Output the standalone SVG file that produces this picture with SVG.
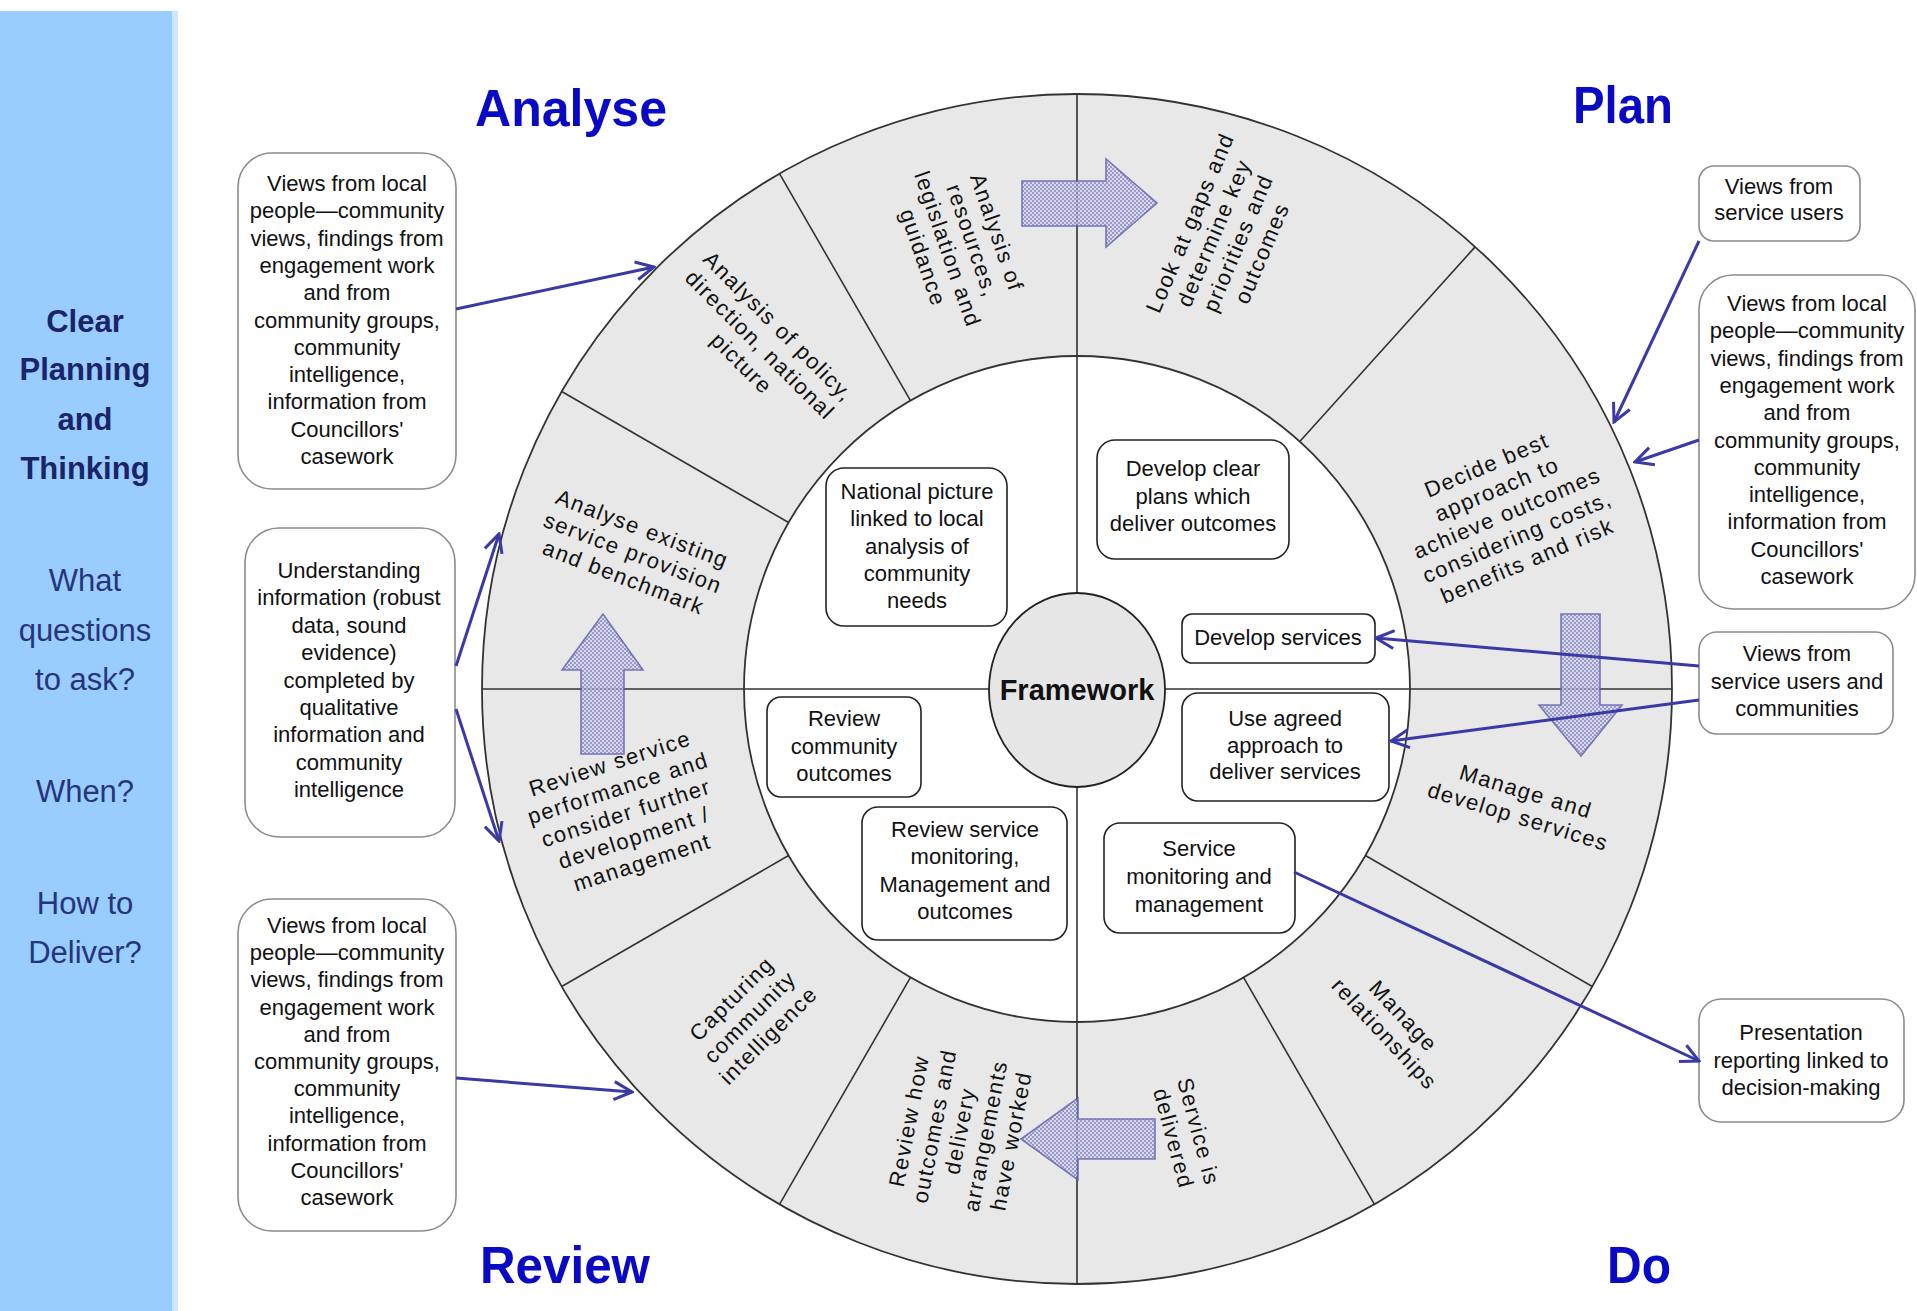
<svg xmlns="http://www.w3.org/2000/svg" width="1917" height="1311" viewBox="0 0 1917 1311">
<style>
  .box{fill:#fff;stroke:#8c8c8c;stroke-width:1.6}
  .ibox{fill:#fff;stroke:#222;stroke-width:1.6}
  .bt{font-family:"Liberation Sans",Arial,sans-serif;font-size:22px;fill:#111;text-anchor:middle}
  .st{font-family:"Liberation Sans",Arial,sans-serif;font-size:22px;fill:#111;text-anchor:middle;letter-spacing:1.5px}
  .ttl{font-family:"Liberation Sans",Arial,sans-serif;font-size:52px;font-weight:bold;fill:#0a0ac4;text-anchor:middle}
  .pb{font-family:"Liberation Sans",Arial,sans-serif;font-size:31px;font-weight:bold;fill:#1b2468;text-anchor:middle}
  .pn{font-family:"Liberation Sans",Arial,sans-serif;font-size:31px;fill:#26357a;text-anchor:middle}
  .rl{stroke:#333;stroke-width:1.6;fill:none}
  .con{stroke:#3a3aa6;stroke-width:3;fill:none;marker-end:url(#ah)}
  .blk{fill:url(#dots);stroke:#5c5cae;stroke-width:1.6;opacity:0.82}
</style>
<defs>
  <marker id="ah" viewBox="0 0 22 22" refX="20" refY="11" markerWidth="22" markerHeight="22" markerUnits="userSpaceOnUse" orient="auto">
    <path d="M2,2 L20,11 L2,20" fill="none" stroke="#3a3aa6" stroke-width="3"/>
  </marker>
  <pattern id="dots" width="4" height="4" patternUnits="userSpaceOnUse">
    <rect width="4" height="4" fill="#d6d6ee"/>
    <rect width="2" height="2" fill="#8a8ac4"/>
    <rect x="2" y="2" width="2" height="2" fill="#8a8ac4"/>
  </pattern>
</defs>
<rect width="1917" height="1311" fill="#fff"/>

<!-- left panel -->
<g id="panel">
  <rect x="0" y="11" width="178" height="1300" fill="#cfe6ff"/>
  <rect x="0" y="11" width="172" height="1300" fill="#99ccff"/>
  <text class="pb" x="85" y="332">Clear</text>
  <text class="pb" x="85" y="380">Planning</text>
  <text class="pb" x="85" y="430">and</text>
  <text class="pb" x="85" y="479">Thinking</text>
  <text class="pn" x="85" y="591">What</text>
  <text class="pn" x="85" y="641">questions</text>
  <text class="pn" x="85" y="690">to ask?</text>
  <text class="pn" x="85" y="802">When?</text>
  <text class="pn" x="85" y="914">How to</text>
  <text class="pn" x="85" y="963">Deliver?</text>
</g>

<!-- titles -->
<g id="titles">
  <text class="ttl" x="571" y="126" textLength="192" lengthAdjust="spacingAndGlyphs">Analyse</text>
  <text class="ttl" x="1623" y="123" textLength="100" lengthAdjust="spacingAndGlyphs">Plan</text>
  <text class="ttl" x="565" y="1283" textLength="170" lengthAdjust="spacingAndGlyphs">Review</text>
  <text class="ttl" x="1639" y="1283" textLength="64" lengthAdjust="spacingAndGlyphs">Do</text>
</g>

<!-- ring -->
<g id="ring">
  <circle cx="1077" cy="689" r="595" fill="#e8e8e8" stroke="#333" stroke-width="1.8"/>
  <circle cx="1077" cy="689" r="333" fill="#fff" stroke="#333" stroke-width="1.8"/>
  <line class="rl" x1="910.5" y1="400.6" x2="779.5" y2="173.7"/>
  <line class="rl" x1="788.6" y1="522.5" x2="561.7" y2="391.5"/>
  <line class="rl" x1="788.6" y1="855.5" x2="561.7" y2="986.5"/>
  <line class="rl" x1="910.5" y1="977.4" x2="779.5" y2="1204.3"/>
  <line class="rl" x1="1243.5" y1="977.4" x2="1374.5" y2="1204.3"/>
  <line class="rl" x1="1365.4" y1="855.5" x2="1592.3" y2="986.5"/>
  <line class="rl" x1="1299.8" y1="441.5" x2="1475.1" y2="246.9"/>
  <line class="rl" x1="1077" y1="94" x2="1077" y2="593"/>
  <line class="rl" x1="1077" y1="787" x2="1077" y2="1284"/>
  <line class="rl" x1="482" y1="689" x2="990" y2="689"/>
  <line class="rl" x1="1164" y1="689" x2="1672" y2="689"/>
</g>

<!-- segment labels -->
<g id="seg-resources"><text class="st" transform="translate(960,245) rotate(71)"><tspan x="0" dy="-31.5">Analysis of</tspan><tspan x="0" dy="26">resources,</tspan><tspan x="0" dy="26">legislation and</tspan><tspan x="0" dy="26">guidance</tspan></text></g>
<g id="seg-gaps"><text class="st" transform="translate(1226,238) rotate(-67)"><tspan x="0" dy="-31.5">Look at gaps and</tspan><tspan x="0" dy="26">determine key</tspan><tspan x="0" dy="26">priorities and</tspan><tspan x="0" dy="26">outcomes</tspan></text></g>
<g id="seg-decide"><text class="st" transform="translate(1507,513) rotate(-23)"><tspan x="0" dy="-44.5">Decide best</tspan><tspan x="0" dy="26">approach to</tspan><tspan x="0" dy="26">achieve outcomes</tspan><tspan x="0" dy="26">considering costs,</tspan><tspan x="0" dy="26">benefits and risk</tspan></text></g>
<g id="seg-manage-develop"><text class="st" transform="translate(1522,804) rotate(17)"><tspan x="0" dy="-5.5">Manage and</tspan><tspan x="0" dy="26">develop services</tspan></text></g>
<g id="seg-relationships"><text class="st" transform="translate(1394,1025) rotate(47)"><tspan x="0" dy="-5.5">Manage</tspan><tspan x="0" dy="26">relationships</tspan></text></g>
<g id="seg-delivered"><text class="st" transform="translate(1186,1135) rotate(75)"><tspan x="0" dy="-5.5">Service is</tspan><tspan x="0" dy="26">delivered</tspan></text></g>
<g id="seg-review-how"><text class="st" transform="translate(960,1131) rotate(-79)"><tspan x="0" dy="-44.5">Review how</tspan><tspan x="0" dy="26">outcomes and</tspan><tspan x="0" dy="26">delivery</tspan><tspan x="0" dy="26">arrangements</tspan><tspan x="0" dy="26">have worked</tspan></text></g>
<g id="seg-capturing"><text class="st" transform="translate(750,1017) rotate(-45)"><tspan x="0" dy="-18.5">Capturing</tspan><tspan x="0" dy="26">community</tspan><tspan x="0" dy="26">intelligence</tspan></text></g>
<g id="seg-review-perf"><text class="st" transform="translate(626,813) rotate(-18)"><tspan x="0" dy="-44.5">Review service</tspan><tspan x="0" dy="26">performance and</tspan><tspan x="0" dy="26">consider further</tspan><tspan x="0" dy="26">development /</tspan><tspan x="0" dy="26">management</tspan></text></g>
<g id="seg-analyse-existing"><text class="st" transform="translate(633,553) rotate(21)"><tspan x="0" dy="-18.5">Analyse existing</tspan><tspan x="0" dy="26">service provision</tspan><tspan x="0" dy="26">and benchmark</tspan></text></g>
<g id="seg-policy"><text class="st" transform="translate(760,345) rotate(45)"><tspan x="0" dy="-18.5">Analysis of policy,</tspan><tspan x="0" dy="26">direction, national</tspan><tspan x="0" dy="26">picture</tspan></text></g>

<!-- framework -->
<g id="framework">
  <ellipse cx="1077" cy="690" rx="88" ry="97" fill="#e6e6e6" stroke="#222" stroke-width="1.8"/>
  <text x="1077" y="700" font-family="Liberation Sans, Arial, sans-serif" font-size="29" font-weight="bold" fill="#111" text-anchor="middle">Framework</text>
</g>

<!-- block arrows -->
<g id="block-arrows">
  <path class="blk" d="M1022,181 H1106 V159 L1157,203 L1106,247 V226 H1022 Z"/>
  <path class="blk" d="M581,754 V670 H562 L603,614 L643,670 H624 V754 Z"/>
  <path class="blk" d="M1561,614 H1600 V705 H1622 L1581,756 L1539,705 H1561 Z"/>
  <path class="blk" d="M1155,1119 V1159 H1078 V1180 L1021,1139 L1078,1098 V1119 Z"/>
</g>

<!-- inner boxes -->
<g id="n-national"><rect class="ibox" x="826" y="468" width="181" height="158" rx="18"/>
  <text class="bt"><tspan x="917" y="499">National picture</tspan><tspan x="917" dy="27.3">linked to local</tspan><tspan x="917" dy="27.3">analysis of</tspan><tspan x="917" dy="27.3">community</tspan><tspan x="917" dy="27.3">needs</tspan></text></g>
<g id="n-plans"><rect class="ibox" x="1097" y="440" width="192" height="119" rx="18"/>
  <text class="bt"><tspan x="1193" y="476">Develop clear</tspan><tspan x="1193" dy="27.5">plans which</tspan><tspan x="1193" dy="27.5">deliver outcomes</tspan></text></g>
<g id="n-develop"><rect class="ibox" x="1182" y="614" width="193" height="49" rx="10"/>
  <text class="bt" x="1278" y="645">Develop services</text></g>
<g id="n-agreed"><rect class="ibox" x="1182" y="693" width="207" height="108" rx="16"/>
  <text class="bt"><tspan x="1285" y="726">Use agreed</tspan><tspan x="1285" dy="26.5">approach to</tspan><tspan x="1285" dy="26.5">deliver services</tspan></text></g>
<g id="n-review-community"><rect class="ibox" x="767" y="697" width="154" height="100" rx="14"/>
  <text class="bt"><tspan x="844" y="726">Review</tspan><tspan x="844" dy="27.5">community</tspan><tspan x="844" dy="27.5">outcomes</tspan></text></g>
<g id="n-review-monitoring"><rect class="ibox" x="862" y="807" width="205" height="133" rx="16"/>
  <text class="bt"><tspan x="965" y="837">Review service</tspan><tspan x="965" dy="27.3">monitoring,</tspan><tspan x="965" dy="27.3">Management and</tspan><tspan x="965" dy="27.3">outcomes</tspan></text></g>
<g id="n-service-monitoring"><rect class="ibox" x="1104" y="823" width="191" height="110" rx="16"/>
  <text class="bt"><tspan x="1199" y="856">Service</tspan><tspan x="1199" dy="28">monitoring and</tspan><tspan x="1199" dy="28">management</tspan></text></g>

<!-- outer boxes -->
<g id="n-views-local-1"><rect class="box" x="238" y="153" width="218" height="336" rx="34"/>
  <text class="bt"><tspan x="347" y="191">Views from local</tspan><tspan x="347" dy="27.3">people—community</tspan><tspan x="347" dy="27.3">views, findings from</tspan><tspan x="347" dy="27.3">engagement work</tspan><tspan x="347" dy="27.3">and from</tspan><tspan x="347" dy="27.3">community groups,</tspan><tspan x="347" dy="27.3">community</tspan><tspan x="347" dy="27.3">intelligence,</tspan><tspan x="347" dy="27.3">information from</tspan><tspan x="347" dy="27.3">Councillors'</tspan><tspan x="347" dy="27.3">casework</tspan></text></g>
<g id="n-understanding"><rect class="box" x="245" y="528" width="210" height="309" rx="34"/>
  <text class="bt"><tspan x="349" y="578">Understanding</tspan><tspan x="349" dy="27.4">information (robust</tspan><tspan x="349" dy="27.4">data, sound</tspan><tspan x="349" dy="27.4">evidence)</tspan><tspan x="349" dy="27.4">completed by</tspan><tspan x="349" dy="27.4">qualitative</tspan><tspan x="349" dy="27.4">information and</tspan><tspan x="349" dy="27.4">community</tspan><tspan x="349" dy="27.4">intelligence</tspan></text></g>
<g id="n-views-local-2"><rect class="box" x="238" y="899" width="218" height="332" rx="34"/>
  <text class="bt"><tspan x="347" y="933">Views from local</tspan><tspan x="347" dy="27.2">people—community</tspan><tspan x="347" dy="27.2">views, findings from</tspan><tspan x="347" dy="27.2">engagement work</tspan><tspan x="347" dy="27.2">and from</tspan><tspan x="347" dy="27.2">community groups,</tspan><tspan x="347" dy="27.2">community</tspan><tspan x="347" dy="27.2">intelligence,</tspan><tspan x="347" dy="27.2">information from</tspan><tspan x="347" dy="27.2">Councillors'</tspan><tspan x="347" dy="27.2">casework</tspan></text></g>
<g id="n-service-users"><rect class="box" x="1699" y="166" width="161" height="75" rx="15"/>
  <text class="bt"><tspan x="1779" y="194">Views from</tspan><tspan x="1779" dy="26">service users</tspan></text></g>
<g id="n-views-local-3"><rect class="box" x="1699" y="275" width="216" height="334" rx="34"/>
  <text class="bt"><tspan x="1807" y="311">Views from local</tspan><tspan x="1807" dy="27.3">people—community</tspan><tspan x="1807" dy="27.3">views, findings from</tspan><tspan x="1807" dy="27.3">engagement work</tspan><tspan x="1807" dy="27.3">and from</tspan><tspan x="1807" dy="27.3">community groups,</tspan><tspan x="1807" dy="27.3">community</tspan><tspan x="1807" dy="27.3">intelligence,</tspan><tspan x="1807" dy="27.3">information from</tspan><tspan x="1807" dy="27.3">Councillors'</tspan><tspan x="1807" dy="27.3">casework</tspan></text></g>
<g id="n-users-communities"><rect class="box" x="1699" y="632" width="194" height="102" rx="18"/>
  <text class="bt"><tspan x="1797" y="661">Views from</tspan><tspan x="1797" dy="27.5">service users and</tspan><tspan x="1797" dy="27.5">communities</tspan></text></g>
<g id="n-presentation"><rect class="box" x="1699" y="999" width="205" height="123" rx="22"/>
  <text class="bt"><tspan x="1801" y="1040">Presentation</tspan><tspan x="1801" dy="27.5">reporting linked to</tspan><tspan x="1801" dy="27.5">decision-making</tspan></text></g>

<!-- connectors -->
<g id="connectors">
  <line class="con" x1="456" y1="309" x2="654" y2="267"/>
  <line class="con" x1="456" y1="666" x2="499" y2="534"/>
  <line class="con" x1="456" y1="709" x2="499" y2="841"/>
  <line class="con" x1="456" y1="1078" x2="632" y2="1092"/>
  <line class="con" x1="1699" y1="241" x2="1614" y2="422"/>
  <line class="con" x1="1699" y1="440" x2="1635" y2="462"/>
  <line class="con" x1="1699" y1="666" x2="1376" y2="638"/>
  <line class="con" x1="1699" y1="700" x2="1391" y2="741"/>
  <line class="con" x1="1294" y1="872" x2="1699" y2="1061"/>
</g>
</svg>
